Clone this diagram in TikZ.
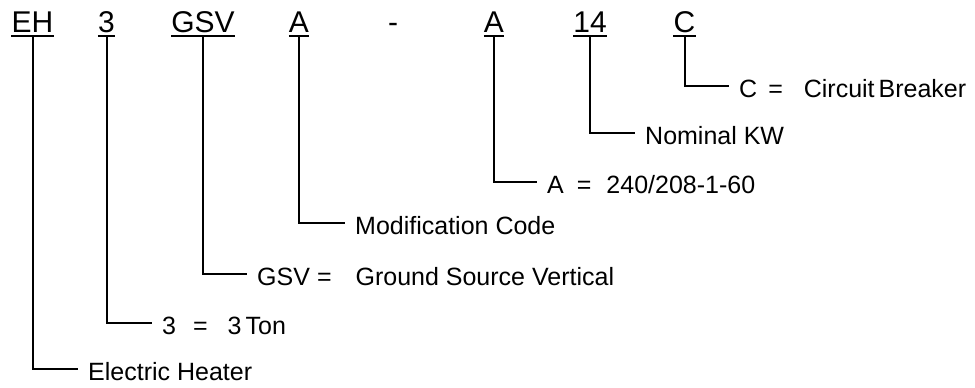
\documentclass[tikz,border=0pt]{standalone}
\usepackage{fontspec}
\setmainfont{Liberation Sans}
\begin{document}
\begin{tikzpicture}[x=1pt,y=-1pt,
  code/.style={font=\fontsize{30}{36}\selectfont, inner sep=0pt, anchor=base, text depth=0pt},
  lab/.style={font=\fontsize{25}{30}\selectfont, anchor=west, inner xsep=10pt, inner ysep=0pt, text height=22pt, text depth=0pt},
  conn/.style={line width=2pt},
]
\useasboundingbox (0,0) rectangle (975,388);
% code letters
\node[code] (eh)   at (32.5,32) {EH};
\node[code] (n3)   at (106.5,32) {3};
\node[code] (gsv)  at (203,32) {GSV};
\node[code] (am)   at (299,32) {A};
\node[code] (dash) at (393,32) {-};
\node[code] (av)   at (494,32) {A};
\node[code] (kw)   at (590,32) {14};
\node[code] (cb)   at (684.5,32) {C};
\foreach \n in {eh,n3,gsv,am,av,kw,cb}
  \draw[conn] ([yshift=-4pt]\n.south west) -- ([yshift=-4pt]\n.south east);
% labels
\node[lab] (leh)  at (78,369)  {Electric Heater};
\node[lab] (l3)   at (152,323) {3\hspace{17pt}=\hspace{20pt}3\hspace{4pt}Ton};
\node[lab] (lgsv) at (247,274) {GSV\hspace{7pt}=\hspace{24pt}Ground Source Vertical};
\node[lab] (lmod) at (345,223) {Modification Code};
\node[lab] (la)   at (537,182) {A\hspace{13pt}=\hspace{15pt}240/208-1-60};
\node[lab] (lkw)  at (635,133) {Nominal KW};
\node[lab] (lc)   at (729,86)  {C\hspace{11pt}=\hspace{21pt}Circuit\hspace{4pt}Breaker};
% connectors
\draw[conn] ([yshift=-4pt]eh.south)  |- (leh.west);
\draw[conn] ([yshift=-4pt]n3.south)  |- (l3.west);
\draw[conn] ([yshift=-4pt]gsv.south) |- (lgsv.west);
\draw[conn] ([yshift=-4pt]am.south)  |- (lmod.west);
\draw[conn] ([yshift=-4pt]av.south)  |- (la.west);
\draw[conn] ([yshift=-4pt]kw.south)  |- (lkw.west);
\draw[conn] ([yshift=-4pt]cb.south)  |- (lc.west);
\end{tikzpicture}
\end{document}
